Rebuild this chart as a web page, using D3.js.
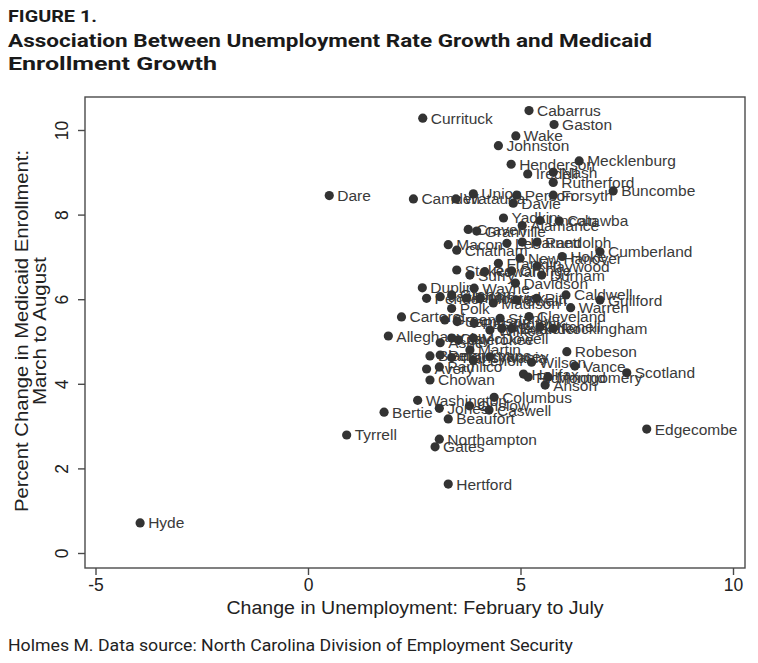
<!DOCTYPE html>
<html>
<head>
<meta charset="utf-8">
<script src="https://cdn.jsdelivr.net/npm/d3@7"></script>
<style>
  body { margin: 0; background: #fff; }
  svg { display: block; }
</style>
</head>
<body>
<div id="chart"></div>
<script>
// county names
var counties = [
  "Cabarrus", "Gaston", "Currituck", "Wake", "Johnston", "Henderson", "Mecklenburg",
  "Iredell", "Nash", "Rutherford", "Buncombe", "Dare", "Camden", "Watauga", "Union",
  "Person", "Davie", "Forsyth", "Yadkin", "Lincoln", "Catawba", "Alamance", "Craven",
  "Granville", "Macon", "Chatham", "Lee", "Harnett", "Randolph", "Cumberland",
  "New Hanover", "Hoke", "Franklin", "Haywood", "Stokes", "Surry", "Rowan", "Orange",
  "Durham", "Duplin", "Wayne", "Davidson", "Pender", "Jackson", "Graham", "Brunswick",
  "Moore", "Madison", "Swain", "Pitt", "Caldwell", "Guilford", "Warren", "Polk",
  "Carteret", "Greene", "Sampson", "Pasquotank", "Stanly", "Cleveland", "Wilkes",
  "Alexander", "Burke", "Mitchell", "Rockingham", "Alleghany", "Ashe", "Clay",
  "Cherokee", "McDowell", "Martin", "Bladen", "Perquimans", "Transylvania", "Lenoir",
  "Yancey", "Wilson", "Robeson", "Avery", "Pamlico", "Chowan", "Vance", "Halifax",
  "Richmond", "Montgomery", "Anson", "Scotland", "Edgecombe", "Washington", "Columbus",
  "Onslow", "Caswell", "Jones", "Bertie", "Beaufort", "Tyrrell", "Northampton", "Gates",
  "Hertford", "Hyde"
];

// change in unemployment, Feb to Jul
var unempChange = [
  5.20, 5.79, 2.70, 4.89, 4.48, 4.78, 6.38,
  5.17, 5.77, 5.77, 7.18, 0.50, 2.48, 3.48, 3.89,
  4.91, 4.83, 5.77, 4.60, 5.46, 5.91, 5.04, 3.77,
  3.97, 3.30, 3.50, 4.68, 5.04, 5.39, 6.87,
  4.99, 5.98, 4.48, 5.39, 3.50, 3.81, 4.16, 4.79,
  5.50, 2.69, 3.91, 4.88, 2.79, 3.11, 3.38, 3.73,
  4.05, 4.36, 4.91, 5.38, 6.07, 6.87, 6.18, 3.38,
  2.20, 3.22, 3.51, 3.91, 4.52, 5.20, 4.28,
  4.56, 4.79, 5.46, 5.77, 1.89, 3.11, 3.38,
  3.54, 3.89, 3.81, 2.87, 3.11, 3.38, 3.89,
  4.28, 5.26, 6.09, 2.79, 3.09, 2.87, 6.28, 5.07,
  5.18, 5.65, 5.58, 7.50, 7.97, 2.58, 4.38,
  3.80, 4.26, 3.09, 1.79, 3.30, 0.91, 3.09, 2.99,
  3.30, -3.95
];

// percent change in medicaid enrollment, Mar to Aug
var medicaidChange = [
  10.46, 10.13, 10.28, 9.86, 9.63, 9.19, 9.27,
  8.96, 9.00, 8.76, 8.56, 8.45, 8.37, 8.37, 8.49,
  8.46, 8.27, 8.46, 7.92, 7.86, 7.85, 7.74, 7.65,
  7.61, 7.29, 7.16, 7.32, 7.35, 7.35, 7.12,
  6.97, 7.01, 6.85, 6.78, 6.69, 6.57, 6.65, 6.67,
  6.57, 6.27, 6.26, 6.38, 6.02, 6.06, 6.10, 6.03,
  6.02, 5.91, 5.98, 6.02, 6.10, 5.98, 5.80, 5.78,
  5.58, 5.51, 5.47, 5.43, 5.55, 5.59, 5.27,
  5.31, 5.31, 5.35, 5.31, 5.13, 4.97, 5.08,
  5.04, 5.08, 4.80, 4.66, 4.68, 4.62, 4.55,
  4.64, 4.51, 4.76, 4.35, 4.40, 4.09, 4.42, 4.23,
  4.16, 4.16, 3.97, 4.26, 2.93, 3.61, 3.68,
  3.48, 3.38, 3.42, 3.33, 3.17, 2.79, 2.69, 2.51,
  1.63, 0.71
];

var xTicks = [-5, 0, 5, 10];
var yTicks = [0, 2, 4, 6, 8, 10];

var width = 758,
    height = 663;

var svg = d3.select("#chart")
    .append("svg")
    .attr("width", width)
    .attr("height", height);

var condensed = "Roboto, 'Open Sans', sans-serif";
var arial = "'Liberation Sans', Arial, Helvetica, sans-serif";

// title + source
svg.append("text")
    .attr("x", 8).attr("y", 22)
    .attr("font-family", condensed).attr("font-weight", "bold")
    .attr("font-size", 17).attr("fill", "#1a1a1a")
    .attr("textLength", 89).attr("lengthAdjust", "spacingAndGlyphs")
    .text("FIGURE 1.");

svg.append("text")
    .attr("x", 8).attr("y", 47)
    .attr("font-family", condensed).attr("font-weight", "bold")
    .attr("font-size", 19).attr("fill", "#1a1a1a")
    .attr("textLength", 644).attr("lengthAdjust", "spacingAndGlyphs")
    .text("Association Between Unemployment Rate Growth and Medicaid");

svg.append("text")
    .attr("x", 8).attr("y", 70)
    .attr("font-family", condensed).attr("font-weight", "bold")
    .attr("font-size", 19).attr("fill", "#1a1a1a")
    .attr("textLength", 209).attr("lengthAdjust", "spacingAndGlyphs")
    .text("Enrollment Growth");

svg.append("text")
    .attr("x", 8).attr("y", 651)
    .attr("font-family", condensed)
    .attr("font-size", 16).attr("fill", "#222")
    .attr("textLength", 565).attr("lengthAdjust", "spacingAndGlyphs")
    .text("Holmes M. Data source: North Carolina Division of Employment Security");

// plot frame
var frame = { left: 85, right: 745, top: 97, bottom: 568 };

var x = d3.scaleLinear().domain([-5, 10]).range([95.5, 733]);
var y = d3.scaleLinear().domain([0, 10]).range([553, 130]);

svg.append("rect")
    .attr("x", frame.left).attr("y", frame.top)
    .attr("width", frame.right - frame.left)
    .attr("height", frame.bottom - frame.top)
    .attr("fill", "none")
    .attr("stroke", "#4a4a4a")
    .attr("stroke-width", 1.4);

// x axis (plain hyphen for the minus, like the original)
var xAxis = svg.append("g")
    .attr("transform", "translate(0," + frame.bottom + ")")
    .call(d3.axisBottom(x).tickValues(xTicks).tickFormat((d) => String(d))
        .tickSize(7).tickPadding(4));
xAxis.select(".domain").remove();
xAxis.selectAll("line").attr("stroke", "#4a4a4a").attr("stroke-width", 1.4);
xAxis.selectAll("text")
    .attr("font-family", arial).attr("font-size", 17.5).attr("fill", "#222");

// y axis, labels turned like stata does
var yAxis = svg.append("g")
    .attr("transform", "translate(" + frame.left + ",0)")
    .call(d3.axisLeft(y).tickValues(yTicks).tickSize(7));
yAxis.select(".domain").remove();
yAxis.selectAll("line").attr("stroke", "#4a4a4a").attr("stroke-width", 1.4);
yAxis.selectAll("text")
    .attr("font-family", arial).attr("font-size", 17.5).attr("fill", "#222")
    .attr("x", null).attr("dy", null)
    .attr("text-anchor", "middle")
    .attr("transform", "translate(-17,0) rotate(-90)");

// axis titles
svg.append("text")
    .attr("x", 415).attr("y", 614)
    .attr("text-anchor", "middle")
    .attr("font-family", arial).attr("font-size", 18).attr("fill", "#222")
    .attr("textLength", 377).attr("lengthAdjust", "spacingAndGlyphs")
    .text("Change in Unemployment: February to July");

svg.append("text")
    .attr("transform", "translate(28,331) rotate(-90)")
    .attr("text-anchor", "middle")
    .attr("font-family", arial).attr("font-size", 18).attr("fill", "#222")
    .attr("textLength", 362).attr("lengthAdjust", "spacingAndGlyphs")
    .text("Percent Change in Medicaid Enrollment:");

svg.append("text")
    .attr("transform", "translate(46,331) rotate(-90)")
    .attr("text-anchor", "middle")
    .attr("font-family", arial).attr("font-size", 18).attr("fill", "#222")
    .attr("textLength", 148).attr("lengthAdjust", "spacingAndGlyphs")
    .text("March to August");

// points + labels
var points = counties.map(function (name, i) {
    return { name: name, ux: unempChange[i], my: medicaidChange[i] };
});

var groups = svg.selectAll("g.pt")
    .data(points)
    .enter()
    .append("g")
    .attr("class", "pt")
    .attr("transform", (d) => "translate(" + x(d.ux) + "," + y(d.my) + ")");

groups.append("circle")
    .attr("r", 4.6)
    .attr("fill", "#333");

groups.append("text")
    .attr("x", 8)
    .attr("y", 5.5)
    .attr("font-family", arial)
    .attr("font-size", 15.5)
    .attr("fill", "#3a3a3a")
    .text((d) => d.name);
</script>
</body>
</html>
